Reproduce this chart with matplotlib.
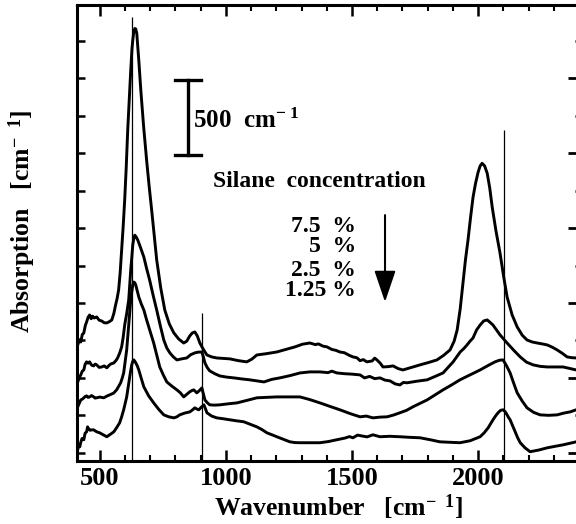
import matplotlib
matplotlib.use("Agg")
import matplotlib.pyplot as plt
from matplotlib.ticker import MultipleLocator, FixedLocator

plt.rcParams["font.family"] = ["Liberation Serif", "DejaVu Serif"]
plt.rcParams["font.weight"] = "bold"
plt.rcParams["mathtext.fontset"] = "custom"
plt.rcParams["mathtext.rm"] = "Liberation Serif:bold"
plt.rcParams["mathtext.it"] = "Liberation Serif:bold:italic"
plt.rcParams["mathtext.bf"] = "Liberation Serif:bold"

# ---- spectra (wavenumber in cm^-1, absorption in cm^-1, stacked) ----
wn_75 = [413, 420, 425, 431, 437, 443, 448, 454, 460, 466, 472, 478, 488, 498, 508, 518, 528, 538,
         548, 556, 563, 569, 575, 581, 587, 593, 599, 605, 611, 617, 623, 628, 631, 635, 639, 643,
         647, 655, 663, 674, 686, 696, 706, 716, 726, 742, 758, 776, 794, 813, 833, 845, 857, 867,
         877, 887, 897, 911, 925, 944, 964, 990, 1016, 1050, 1083, 1103, 1123, 1162, 1202, 1238,
         1274, 1304, 1333, 1355, 1367, 1385, 1401, 1420, 1436, 1452, 1470, 1490, 1504, 1520, 1532,
         1545, 1559, 1580, 1590, 1599, 1612, 1623, 1643, 1663, 1683, 1702, 1736, 1770, 1804, 1837,
         1863, 1889, 1905, 1917, 1929, 1940, 1950, 1960, 1970, 1980, 1990, 2000, 2008, 2016, 2026,
         2036, 2046, 2056, 2071, 2087, 2101, 2115, 2135, 2155, 2175, 2194, 2214, 2234, 2254, 2274,
         2294, 2313, 2333, 2353, 2371, 2389, 2400]
ab_75 = [720, 755, 740, 790, 800, 850, 873, 905, 920, 895, 912, 900, 907, 885, 880, 868, 867, 875,
         887, 930, 987, 1030, 1087, 1200, 1353, 1510, 1687, 1900, 2153, 2360, 2553, 2700, 2753, 2810,
         2833, 2830, 2800, 2620, 2420, 2180, 1953, 1780, 1620, 1450, 1287, 1100, 953, 860, 800, 760,
         733, 745, 780, 800, 807, 780, 733, 690, 653, 640, 633, 630, 627, 615, 607, 625, 653, 662,
         673, 690, 707, 725, 733, 722, 727, 712, 707, 690, 684, 673, 668, 650, 640, 634, 615, 622,
         607, 613, 632, 620, 598, 573, 575, 580, 562, 553, 570, 587, 603, 620, 650, 687, 745, 820,
         960, 1133, 1290, 1420, 1570, 1707, 1800, 1873, 1915, 1933, 1915, 1867, 1770, 1640, 1480,
         1333, 1180, 1040, 920, 840, 785, 753, 740, 733, 727, 720, 705, 687, 665, 640, 635, 633, 628]

wn_50 = [413, 419, 425, 431, 437, 442, 448, 454, 460, 468, 476, 482, 488, 498, 508, 518, 528, 538,
         544, 556, 564, 571, 579, 587, 593, 599, 607, 615, 619, 623, 627, 631, 635, 639, 645, 651,
         663, 675, 686, 698, 712, 726, 740, 754, 766, 778, 792, 806, 825, 845, 861, 877, 891, 905,
         911, 917, 926, 936, 956, 976, 1004, 1032, 1063, 1095, 1123, 1151, 1182, 1214, 1254, 1294,
         1333, 1373, 1405, 1420, 1440, 1470, 1500, 1532, 1550, 1570, 1590, 1611, 1631, 1651, 1671,
         1690, 1704, 1718, 1758, 1798, 1830, 1861, 1881, 1901, 1915, 1929, 1943, 1956, 1968, 1980,
         1994, 2008, 2022, 2036, 2048, 2059, 2073, 2087, 2101, 2115, 2141, 2167, 2192, 2218, 2246,
         2274, 2305, 2337, 2363, 2389, 2400]
ab_50 = [473, 500, 520, 545, 553, 590, 607, 598, 607, 585, 580, 592, 587, 570, 573, 580, 567, 585,
         593, 600, 615, 633, 665, 707, 770, 853, 930, 1020, 1120, 1220, 1300, 1387, 1430, 1453, 1440,
         1420, 1365, 1307, 1230, 1153, 1050, 953, 850, 753, 700, 667, 640, 620, 627, 633, 655, 667,
         672, 673, 640, 600, 570, 547, 528, 513, 505, 500, 493, 487, 480, 473, 490, 500, 515, 533,
         540, 540, 535, 545, 533, 528, 525, 520, 500, 510, 495, 500, 485, 480, 460, 453, 470, 467,
         478, 487, 510, 533, 570, 607, 640, 673, 695, 720, 745, 767, 820, 853, 880, 887, 870, 853,
         820, 787, 760, 733, 685, 640, 605, 587, 577, 573, 573, 573, 563, 553, 553]

wn_25 = [413, 419, 425, 431, 437, 442, 448, 454, 460, 468, 476, 482, 488, 500, 516, 528, 540, 555,
         567, 575, 583, 589, 595, 601, 607, 611, 615, 619, 623, 627, 631, 635, 639, 643, 649, 655,
         665, 675, 686, 700, 714, 726, 738, 752, 766, 786, 806, 820, 833, 845, 857, 865, 873, 885,
         895, 905, 911, 917, 926, 936, 956, 976, 1010, 1044, 1084, 1123, 1162, 1202, 1250, 1294,
         1333, 1373, 1412, 1452, 1492, 1532, 1557, 1583, 1611, 1639, 1665, 1690, 1716, 1742, 1770,
         1798, 1830, 1861, 1895, 1928, 1968, 2008, 2040, 2067, 2085, 2099, 2113, 2127, 2141, 2155,
         2175, 2194, 2220, 2246, 2280, 2313, 2340, 2365, 2389, 2400]
ab_25 = [307, 330, 353, 358, 367, 375, 380, 370, 373, 382, 373, 365, 367, 372, 367, 378, 387, 398,
         420, 443, 467, 497, 533, 610, 687, 770, 853, 937, 1020, 1075, 1120, 1140, 1135, 1120, 1080,
         1040, 993, 953, 887, 810, 733, 653, 573, 520, 473, 445, 420, 400, 373, 390, 407, 415, 420,
         400, 415, 433, 393, 353, 335, 320, 318, 320, 327, 333, 350, 367, 370, 373, 373, 373, 355,
         333, 310, 287, 262, 240, 245, 233, 238, 240, 252, 267, 283, 307, 330, 353, 387, 420, 453,
         487, 520, 553, 583, 607, 618, 620, 580, 533, 465, 400, 345, 300, 270, 253, 250, 253, 265,
         273, 287, 287]

wn_125 = [413, 417, 421, 425, 430, 437, 442, 448, 452, 456, 462, 468, 476, 488, 500, 514, 528, 542,
          556, 568, 579, 587, 595, 601, 607, 613, 619, 623, 627, 631, 635, 639, 643, 649, 655, 665,
          675, 694, 714, 734, 754, 774, 794, 806, 817, 837, 857, 867, 877, 885, 893, 903, 913, 919,
          925, 944, 964, 990, 1016, 1044, 1071, 1097, 1123, 1143, 1163, 1183, 1202, 1228, 1254, 1274,
          1294, 1334, 1373, 1407, 1440, 1472, 1490, 1504, 1522, 1540, 1560, 1583, 1611, 1650, 1690,
          1730, 1770, 1810, 1849, 1888, 1928, 1968, 2008, 2024, 2040, 2050, 2059, 2069, 2079, 2089,
          2099, 2107, 2115, 2121, 2127, 2137, 2147, 2157, 2167, 2186, 2206, 2240, 2274, 2305, 2337,
          2363, 2389, 2400]
ab_125 = [20, 55, 40, 70, 95, 87, 130, 140, 173, 160, 150, 153, 153, 140, 133, 120, 107, 123,
          140, 170, 200, 240, 287, 330, 373, 440, 507, 550, 587, 610, 620, 612, 600, 580, 553, 495,
          440, 380, 333, 290, 253, 240, 233, 240, 253, 265, 273, 285, 300, 292, 287, 305, 320, 295,
          267, 245, 233, 227, 220, 213, 207, 190, 173, 155, 133, 120, 107, 90, 73, 68,
          67, 67, 67, 75, 87, 98, 108, 100, 118, 112, 106, 120, 107, 110, 107,
          103, 100, 87, 73, 70, 67, 80, 107, 133, 167, 195, 220, 245, 267, 283,
          287, 275, 253, 235, 220, 180, 140, 100, 67, 33, 7, 18, 33, 43, 53,
          63, 73, 80]

# band positions marked by thin vertical lines, and how high each line reaches
band_centers = [628, 904, 2103]
band_tops = [2907, 933, 2153]

x_ticks = [500, 1000, 1500, 2000]
x_ticklabels = ["500", "1000", "1500", "2000"]

concentrations = ["7.5  %", "5  %", "2.5  %", "1.25 %"]
scale_bar_value = 500  # cm^-1

fig = plt.figure(figsize=(5.76, 5.24), dpi=100)
ax = fig.add_axes([77 / 576, 63 / 524, 502 / 576, 456 / 524])

for wn, ab in [(wn_75, ab_75), (wn_50, ab_50), (wn_25, ab_25), (wn_125, ab_125)]:
    ax.plot(wn, ab, color="black", lw=2.1, solid_joinstyle="round", solid_capstyle="round")

ymin, ymax = -55, 2990
ax.vlines(band_centers, ymin, band_tops, color="black", lw=0.9)

ax.set_xlim(410, 2400)
ax.set_ylim(ymin, ymax)

for side in ["left", "right", "top", "bottom"]:
    ax.spines[side].set_linewidth(2.2)

ax.xaxis.set_major_locator(FixedLocator(x_ticks))
ax.set_xticklabels(x_ticklabels)
ax.xaxis.set_minor_locator(MultipleLocator(100))
ax.tick_params(axis="x", which="major", direction="in", length=8, width=1.8,
               top=True, bottom=True, labelsize=19, pad=4)
ax.tick_params(axis="x", which="minor", direction="in", length=4, width=1.5,
               top=True, bottom=True)

ax.yaxis.set_major_locator(MultipleLocator(500))
ax.yaxis.set_minor_locator(MultipleLocator(250))
ax.tick_params(axis="y", which="both", direction="in", length=6, width=1.8,
               left=True, right=False, labelleft=False)

sec = ax.secondary_yaxis("right")
sec.yaxis.set_major_locator(MultipleLocator(500))
sec.yaxis.set_minor_locator(MultipleLocator(250))
sec.tick_params(axis="y", which="major", direction="in", length=8, width=2.0, labelright=False)
sec.tick_params(axis="y", which="minor", direction="in", length=3, width=2.0)
sec.spines["right"].set_linewidth(2.2)

ax.set_xlabel("Wavenumber   [cm$^{-\\ \\ 1}$]", fontsize=18.5, fontweight="bold")
ax.xaxis.set_label_coords(0.52, -0.068)
ax.set_ylabel("Absorption   [cm$^{-\\ \\ 1}$]", fontsize=18.5, fontweight="bold")
ax.yaxis.set_label_coords(-0.078, 0.525)

# scale bar
bar_x, bar_base, cap = 849, 1987, 52
ax.plot([bar_x, bar_x], [bar_base, bar_base + scale_bar_value], color="black", lw=2.4)
for yy in (bar_base, bar_base + scale_bar_value):
    ax.plot([bar_x - cap, bar_x + cap], [yy, yy], color="black", lw=2.4)
ax.text(869, bar_base + scale_bar_value / 2 - 20, "%d  cm$^{-\\ 1}$" % scale_bar_value,
        fontsize=18, va="center", ha="left")

ax.text(948, 1813, "Silane  concentration", fontsize=17, va="center", ha="left")
for label, yy in zip(concentrations, [1510, 1380, 1215, 1085]):
    ax.text(1516, yy, label, fontsize=17, va="center", ha="right")

ax.annotate("", xy=(1631, 1007), xytext=(1631, 1587),
            arrowprops=dict(arrowstyle="-|>,head_length=0.97,head_width=0.33",
                            mutation_scale=20, lw=1.5, color="black",
                            shrinkA=0, shrinkB=0))

fig.savefig("out.png", dpi=100)
